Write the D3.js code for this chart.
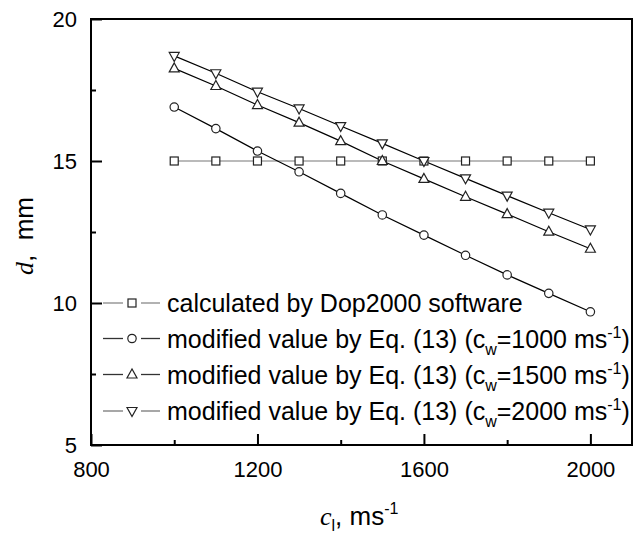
<!DOCTYPE html>
<html>
<head>
<meta charset="utf-8">
<script src="https://cdn.jsdelivr.net/npm/d3@7"></script>
<style>
  body { margin: 0; background: #fff; }
  svg { display: block; font-family: "Liberation Sans", Arial, sans-serif; }
  .axis path { display: none; }
  .axis line { stroke: #000; stroke-width: 2; }
  .axis text { font-size: 22px; fill: #000; font-family: "Liberation Sans", Arial, sans-serif; }
</style>
</head>
<body>
<div id="chart"></div>
<script>
// ---- data -----------------------------------------------------------------
const cl = [1000, 1100, 1200, 1300, 1400, 1500, 1600, 1700, 1800, 1900, 2000];
const dDop = [15, 15, 15, 15, 15, 15, 15, 15, 15, 15, 15];
const dCw1000 = [16.9, 16.14, 15.35, 14.62, 13.86, 13.10, 12.39, 11.68, 10.99, 10.34, 9.69];
const dCw1500 = [18.26, 17.64, 16.97, 16.35, 15.70, 15.0, 14.37, 13.74, 13.13, 12.51, 11.91];
const dCw2000 = [18.70, 18.09, 17.44, 16.85, 16.23, 15.62, 15.0, 14.39, 13.78, 13.18, 12.59];
const xMajor = [800, 1200, 1600, 2000], xMinor = [1000, 1400, 1800];
const yMajor = [5, 10, 15, 20], yMinor = [7.5, 12.5, 17.5];

const series = [
  { vals: dDop,    sym: 'square', line: '#777', lg: '#888', pre: 'calculated by Dop2000 software' },
  { vals: dCw1000, sym: 'circle', line: '#000', lg: '#333', pre: 'modified value by Eq. (13) (c', cw: '1000' },
  { vals: dCw1500, sym: 'up',     line: '#000', lg: '#333', pre: 'modified value by Eq. (13) (c', cw: '1500' },
  { vals: dCw2000, sym: 'down',   line: '#000', lg: '#777', pre: 'modified value by Eq. (13) (c', cw: '2000' },
];

// ---- layout ---------------------------------------------------------------
const W = 644, H = 534;
const m = { top: 19, right: 12, bottom: 89, left: 91 };
const iw = W - m.left - m.right, ih = H - m.top - m.bottom;

const svg = d3.select('#chart').append('svg').attr('width', W).attr('height', H);
const g = svg.append('g').attr('transform', `translate(${m.left},${m.top})`);

const x = d3.scaleLinear([800, 2100], [0, iw]);
const y = d3.scaleLinear([5, 20], [ih, 0]);

// open markers
function marker(sel, sym, cx, cy) {
  const col = '#222';
  if (sym === 'square') {
    sel.append('rect').attr('x', cx - 4).attr('y', cy - 4).attr('width', 8).attr('height', 8)
      .attr('fill', '#fff').attr('stroke', col).attr('stroke-width', 1.2);
  } else if (sym === 'circle') {
    sel.append('circle').attr('cx', cx).attr('cy', cy).attr('r', 4.2)
      .attr('fill', '#fff').attr('stroke', col).attr('stroke-width', 1.2);
  } else {
    const s = sym === 'up' ? 1 : -1;
    const pts = [[cx, cy - 5.5 * s], [cx - 5, cy + 3.5 * s], [cx + 5, cy + 3.5 * s]];
    sel.append('path').attr('d', 'M' + pts.join('L') + 'Z')
      .attr('fill', '#fff').attr('stroke', col).attr('stroke-width', 1.2);
  }
}

// axes (ticks pointing inward)
g.append('g').attr('class', 'axis').attr('transform', `translate(0,${ih})`)
  .call(d3.axisBottom(x).tickValues(xMajor).tickSizeInner(-11).tickSizeOuter(0)
    .tickPadding(16).tickFormat(d3.format('d')));
g.append('g').attr('class', 'axis').attr('transform', `translate(0,${ih})`)
  .call(d3.axisBottom(x).tickValues(xMinor).tickSizeInner(-5).tickSizeOuter(0).tickFormat(''));
g.append('g').attr('class', 'axis')
  .call(d3.axisLeft(y).tickValues(yMajor).tickSizeInner(-11).tickSizeOuter(0)
    .tickPadding(14).tickFormat(d3.format('d')));
g.append('g').attr('class', 'axis')
  .call(d3.axisLeft(y).tickValues(yMinor).tickSizeInner(-5).tickSizeOuter(0).tickFormat(''));

// series
const line = d3.line().x((v, i) => x(cl[i])).y(v => y(v));
series.forEach(s => {
  g.append('path').datum(s.vals).attr('fill', 'none').attr('stroke', s.line)
    .attr('stroke-width', 1.2).attr('d', line);
});
series.forEach(s => {
  const mg = g.append('g');
  s.vals.forEach((v, i) => marker(mg, s.sym, x(cl[i]), y(v)));
});

// legend
const lg = svg.append('g');
const rowY = [303, 338.5, 374.5, 411];
series.forEach((s, i) => {
  const ry = rowY[i];
  lg.append('line').attr('x1', 103).attr('x2', 123).attr('y1', ry).attr('y2', ry)
    .attr('stroke', s.lg).attr('stroke-width', 1.3);
  lg.append('line').attr('x1', 141).attr('x2', 160).attr('y1', ry).attr('y2', ry)
    .attr('stroke', s.lg).attr('stroke-width', 1.3);
  marker(lg, s.sym, 132, ry);
  const t = lg.append('text').attr('x', 167).attr('y', ry + 9).style('font-size', '25px');
  t.append('tspan').text(s.pre);
  if (s.cw) {
    t.append('tspan').attr('dy', 7).style('font-size', '16px').text('w');
    t.append('tspan').attr('dy', -7).text('=' + s.cw + ' ms');
    t.append('tspan').attr('dy', -10).style('font-size', '16px').text('-1');
    t.append('tspan').attr('dy', 10).text(')');
  }
});

// frame
svg.append('rect').attr('x', m.left).attr('y', m.top).attr('width', iw).attr('height', ih)
  .attr('fill', 'none').attr('stroke', '#000').attr('stroke-width', 2);

// axis titles
const xt = svg.append('text').attr('x', 320).attr('y', 525).style('font-size', '26px');
xt.append('tspan').style('font-family', '"Liberation Serif", "Times New Roman", serif')
  .style('font-style', 'italic').text('c');
xt.append('tspan').attr('dy', 6).style('font-size', '16px').text('l');
xt.append('tspan').attr('dy', -6).text(', ms');
xt.append('tspan').attr('dy', -11).style('font-size', '16px').text('-1');

const yt = svg.append('text').attr('transform', 'translate(33,236) rotate(-90)')
  .attr('text-anchor', 'middle').style('font-size', '26px');
yt.append('tspan').style('font-family', '"Liberation Serif", "Times New Roman", serif')
  .style('font-style', 'italic').text('d');
yt.append('tspan').text(',\u00a0\u00a0mm');
</script>
</body>
</html>
